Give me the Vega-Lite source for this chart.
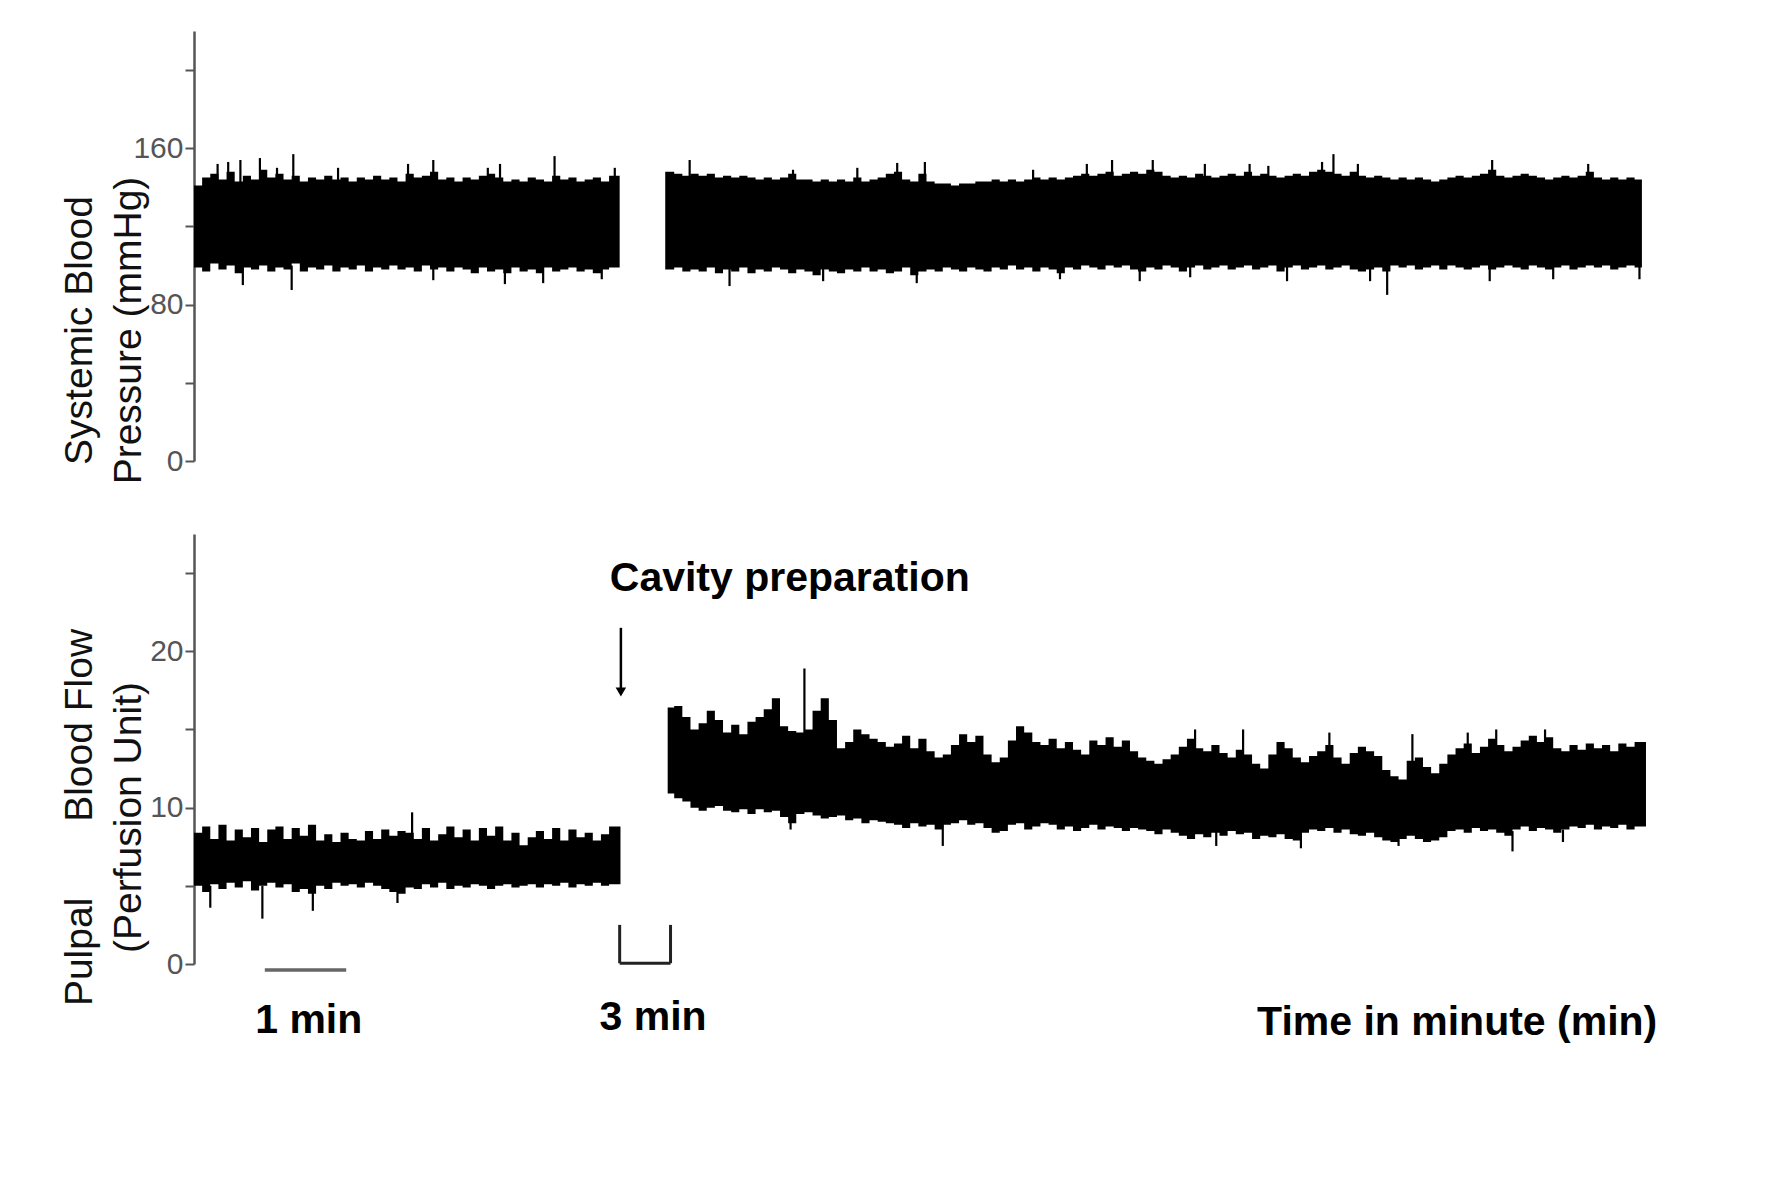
{
  "$schema": "https://vega.github.io/schema/vega-lite/v6.json",
  "padding": {"left": 60, "top": 31, "right": 10, "bottom": 10},
  "background": "white",
  "spacing": 73,
  "bounds": "flush",
  "config": {"view": {"stroke": null}, "font": "Liberation Sans", "axis": {"grid": false}},
  "datasets": {
    "bp": [
      {"seg":1,"t":0.0,"lo":99,"hi":141},
      {"seg":1,"t":0.05,"lo":99,"hi":141},{"seg":1,"t":0.15,"lo":97,"hi":145},{"seg":1,"t":0.25,"lo":101,"hi":147},{"seg":1,"t":0.35,"lo":98,"hi":144},{"seg":1,"t":0.45,"lo":100,"hi":148},{"seg":1,"t":0.55,"lo":96,"hi":143},{"seg":1,"t":0.65,"lo":99,"hi":146},{"seg":1,"t":0.75,"lo":98,"hi":144},{"seg":1,"t":0.85,"lo":100,"hi":149},{"seg":1,"t":0.95,"lo":97,"hi":145},
      {"seg":1,"t":1.05,"lo":99,"hi":147},{"seg":1,"t":1.15,"lo":98,"hi":144},{"seg":1,"t":1.25,"lo":101,"hi":146},{"seg":1,"t":1.35,"lo":97,"hi":143},{"seg":1,"t":1.45,"lo":99,"hi":145},{"seg":1,"t":1.55,"lo":98,"hi":144},{"seg":1,"t":1.65,"lo":100,"hi":146},{"seg":1,"t":1.75,"lo":97,"hi":144},{"seg":1,"t":1.85,"lo":99,"hi":145},{"seg":1,"t":1.95,"lo":98,"hi":143},
      {"seg":1,"t":2.05,"lo":100,"hi":145},{"seg":1,"t":2.15,"lo":97,"hi":144},{"seg":1,"t":2.25,"lo":99,"hi":146},{"seg":1,"t":2.35,"lo":98,"hi":144},{"seg":1,"t":2.45,"lo":100,"hi":145},{"seg":1,"t":2.55,"lo":98,"hi":143},{"seg":1,"t":2.65,"lo":99,"hi":147},{"seg":1,"t":2.75,"lo":97,"hi":145},{"seg":1,"t":2.85,"lo":100,"hi":146},{"seg":1,"t":2.95,"lo":98,"hi":148},
      {"seg":1,"t":3.05,"lo":99,"hi":144},{"seg":1,"t":3.15,"lo":97,"hi":145},{"seg":1,"t":3.25,"lo":99,"hi":143},{"seg":1,"t":3.35,"lo":98,"hi":145},{"seg":1,"t":3.45,"lo":96,"hi":144},{"seg":1,"t":3.55,"lo":99,"hi":146},{"seg":1,"t":3.65,"lo":97,"hi":147},{"seg":1,"t":3.75,"lo":98,"hi":145},{"seg":1,"t":3.85,"lo":96,"hi":143},{"seg":1,"t":3.95,"lo":99,"hi":144},
      {"seg":1,"t":4.05,"lo":97,"hi":143},{"seg":1,"t":4.15,"lo":98,"hi":145},{"seg":1,"t":4.25,"lo":96,"hi":144},{"seg":1,"t":4.35,"lo":99,"hi":143},{"seg":1,"t":4.45,"lo":97,"hi":146},{"seg":1,"t":4.55,"lo":98,"hi":144},{"seg":1,"t":4.65,"lo":99,"hi":145},{"seg":1,"t":4.75,"lo":97,"hi":143},{"seg":1,"t":4.85,"lo":98,"hi":144},{"seg":1,"t":4.95,"lo":96,"hi":145},
      {"seg":1,"t":5.05,"lo":98,"hi":143},{"seg":1,"t":5.15,"lo":99,"hi":146},{"seg":1,"t":5.23,"lo":99,"hi":146},
      {"seg":2,"t":5.79,"lo":98,"hi":148},
      {"seg":2,"t":5.85,"lo":98,"hi":148},{"seg":2,"t":5.95,"lo":99,"hi":147},{"seg":2,"t":6.05,"lo":97,"hi":146},{"seg":2,"t":6.15,"lo":98,"hi":147},{"seg":2,"t":6.25,"lo":97,"hi":146},{"seg":2,"t":6.35,"lo":99,"hi":147},{"seg":2,"t":6.45,"lo":96,"hi":145},{"seg":2,"t":6.55,"lo":98,"hi":146},{"seg":2,"t":6.65,"lo":97,"hi":145},{"seg":2,"t":6.75,"lo":99,"hi":146},
      {"seg":2,"t":6.85,"lo":96,"hi":145},{"seg":2,"t":6.95,"lo":98,"hi":144},{"seg":2,"t":7.05,"lo":97,"hi":145},{"seg":2,"t":7.15,"lo":99,"hi":144},{"seg":2,"t":7.25,"lo":98,"hi":145},{"seg":2,"t":7.35,"lo":96,"hi":147},{"seg":2,"t":7.45,"lo":98,"hi":144},{"seg":2,"t":7.55,"lo":97,"hi":144},{"seg":2,"t":7.65,"lo":95,"hi":143},{"seg":2,"t":7.75,"lo":98,"hi":144},
      {"seg":2,"t":7.85,"lo":97,"hi":143},{"seg":2,"t":7.95,"lo":96,"hi":144},{"seg":2,"t":8.05,"lo":98,"hi":143},{"seg":2,"t":8.15,"lo":97,"hi":145},{"seg":2,"t":8.25,"lo":99,"hi":143},{"seg":2,"t":8.35,"lo":97,"hi":144},{"seg":2,"t":8.45,"lo":98,"hi":145},{"seg":2,"t":8.55,"lo":96,"hi":147},{"seg":2,"t":8.65,"lo":97,"hi":148},{"seg":2,"t":8.75,"lo":99,"hi":144},
      {"seg":2,"t":8.85,"lo":95,"hi":143},{"seg":2,"t":8.95,"lo":97,"hi":147},{"seg":2,"t":9.05,"lo":98,"hi":143},{"seg":2,"t":9.15,"lo":97,"hi":142},{"seg":2,"t":9.25,"lo":99,"hi":142},{"seg":2,"t":9.35,"lo":98,"hi":141},{"seg":2,"t":9.45,"lo":97,"hi":142},{"seg":2,"t":9.55,"lo":99,"hi":142},{"seg":2,"t":9.65,"lo":98,"hi":143},{"seg":2,"t":9.75,"lo":97,"hi":143},
      {"seg":2,"t":9.85,"lo":99,"hi":144},{"seg":2,"t":9.95,"lo":98,"hi":143},{"seg":2,"t":10.05,"lo":100,"hi":144},{"seg":2,"t":10.15,"lo":98,"hi":143},{"seg":2,"t":10.25,"lo":99,"hi":144},{"seg":2,"t":10.35,"lo":97,"hi":145},{"seg":2,"t":10.45,"lo":99,"hi":144},{"seg":2,"t":10.55,"lo":98,"hi":145},{"seg":2,"t":10.65,"lo":96,"hi":144},{"seg":2,"t":10.75,"lo":99,"hi":145},
      {"seg":2,"t":10.85,"lo":98,"hi":146},{"seg":2,"t":10.95,"lo":100,"hi":147},{"seg":2,"t":11.05,"lo":99,"hi":146},{"seg":2,"t":11.15,"lo":98,"hi":147},{"seg":2,"t":11.25,"lo":100,"hi":148},{"seg":2,"t":11.35,"lo":99,"hi":146},{"seg":2,"t":11.45,"lo":100,"hi":147},{"seg":2,"t":11.55,"lo":98,"hi":148},{"seg":2,"t":11.65,"lo":97,"hi":147},{"seg":2,"t":11.75,"lo":99,"hi":149},
      {"seg":2,"t":11.85,"lo":98,"hi":148},{"seg":2,"t":11.95,"lo":100,"hi":146},{"seg":2,"t":12.05,"lo":99,"hi":145},{"seg":2,"t":12.15,"lo":97,"hi":146},{"seg":2,"t":12.25,"lo":99,"hi":145},{"seg":2,"t":12.35,"lo":100,"hi":147},{"seg":2,"t":12.45,"lo":98,"hi":146},{"seg":2,"t":12.55,"lo":99,"hi":145},{"seg":2,"t":12.65,"lo":100,"hi":146},{"seg":2,"t":12.75,"lo":98,"hi":147},
      {"seg":2,"t":12.85,"lo":99,"hi":146},{"seg":2,"t":12.95,"lo":100,"hi":148},{"seg":2,"t":13.05,"lo":98,"hi":146},{"seg":2,"t":13.15,"lo":99,"hi":147},{"seg":2,"t":13.25,"lo":100,"hi":146},{"seg":2,"t":13.35,"lo":97,"hi":145},{"seg":2,"t":13.45,"lo":99,"hi":146},{"seg":2,"t":13.55,"lo":100,"hi":147},{"seg":2,"t":13.65,"lo":98,"hi":146},{"seg":2,"t":13.75,"lo":99,"hi":148},
      {"seg":2,"t":13.85,"lo":100,"hi":149},{"seg":2,"t":13.95,"lo":98,"hi":148},{"seg":2,"t":14.05,"lo":99,"hi":147},{"seg":2,"t":14.15,"lo":100,"hi":146},{"seg":2,"t":14.25,"lo":98,"hi":148},{"seg":2,"t":14.35,"lo":97,"hi":146},{"seg":2,"t":14.45,"lo":98,"hi":145},{"seg":2,"t":14.55,"lo":99,"hi":146},{"seg":2,"t":14.65,"lo":97,"hi":145},{"seg":2,"t":14.75,"lo":100,"hi":144},
      {"seg":2,"t":14.85,"lo":99,"hi":145},{"seg":2,"t":14.95,"lo":100,"hi":144},{"seg":2,"t":15.05,"lo":98,"hi":145},{"seg":2,"t":15.15,"lo":99,"hi":144},{"seg":2,"t":15.25,"lo":100,"hi":143},{"seg":2,"t":15.35,"lo":98,"hi":144},{"seg":2,"t":15.45,"lo":100,"hi":145},{"seg":2,"t":15.55,"lo":99,"hi":146},{"seg":2,"t":15.65,"lo":98,"hi":145},{"seg":2,"t":15.75,"lo":99,"hi":146},
      {"seg":2,"t":15.85,"lo":100,"hi":147},{"seg":2,"t":15.95,"lo":98,"hi":149},{"seg":2,"t":16.05,"lo":99,"hi":146},{"seg":2,"t":16.15,"lo":100,"hi":145},{"seg":2,"t":16.25,"lo":99,"hi":146},{"seg":2,"t":16.35,"lo":98,"hi":147},{"seg":2,"t":16.45,"lo":100,"hi":146},{"seg":2,"t":16.55,"lo":99,"hi":145},{"seg":2,"t":16.65,"lo":98,"hi":144},{"seg":2,"t":16.75,"lo":99,"hi":145},
      {"seg":2,"t":16.85,"lo":100,"hi":146},{"seg":2,"t":16.95,"lo":98,"hi":145},{"seg":2,"t":17.05,"lo":99,"hi":146},{"seg":2,"t":17.15,"lo":100,"hi":148},{"seg":2,"t":17.25,"lo":99,"hi":145},{"seg":2,"t":17.35,"lo":100,"hi":144},{"seg":2,"t":17.45,"lo":98,"hi":145},{"seg":2,"t":17.55,"lo":99,"hi":144},{"seg":2,"t":17.65,"lo":100,"hi":145},{"seg":2,"t":17.75,"lo":99,"hi":144},
      {"seg":2,"t":17.79,"lo":99,"hi":144}
    ],
    "bpSpikes": [
      {"t":0.29,"lo":140,"hi":152},{"t":0.42,"lo":140,"hi":153},{"t":0.57,"lo":140,"hi":154},{"t":0.81,"lo":140,"hi":155},{"t":1.02,"lo":140,"hi":150},{"t":1.22,"lo":140,"hi":157},{"t":1.77,"lo":140,"hi":150},{"t":2.63,"lo":140,"hi":152},{"t":2.94,"lo":140,"hi":154},{"t":3.61,"lo":140,"hi":150},{"t":3.76,"lo":140,"hi":152},{"t":4.43,"lo":140,"hi":156},{"t":5.17,"lo":140,"hi":150},
      {"t":6.09,"lo":140,"hi":154},{"t":7.36,"lo":140,"hi":149},{"t":8.15,"lo":140,"hi":150},{"t":8.64,"lo":140,"hi":152.5},{"t":8.98,"lo":140,"hi":153},{"t":10.31,"lo":140,"hi":149},{"t":10.97,"lo":140,"hi":152},{"t":11.28,"lo":140,"hi":154},{"t":11.78,"lo":140,"hi":154},{"t":12.42,"lo":140,"hi":152},{"t":12.97,"lo":140,"hi":152},{"t":13.2,"lo":140,"hi":151},{"t":13.86,"lo":140,"hi":153},{"t":14.0,"lo":140,"hi":157},{"t":14.3,"lo":140,"hi":152},{"t":15.95,"lo":140,"hi":154},{"t":17.13,"lo":140,"hi":152},
      {"t":0.6,"lo":90,"hi":100},{"t":1.2,"lo":87.5,"hi":100},{"t":2.94,"lo":92.5,"hi":100},{"t":3.82,"lo":90.5,"hi":100},{"t":4.29,"lo":91,"hi":100},{"t":5.01,"lo":93,"hi":100},{"t":6.58,"lo":89.5,"hi":100},{"t":7.73,"lo":92,"hi":100},{"t":8.88,"lo":91,"hi":100},{"t":10.64,"lo":93,"hi":100},{"t":11.62,"lo":92,"hi":100},{"t":12.24,"lo":94,"hi":100},{"t":13.43,"lo":92,"hi":100},{"t":14.45,"lo":92,"hi":100},{"t":14.66,"lo":85,"hi":100},{"t":15.92,"lo":92,"hi":100},{"t":16.7,"lo":93,"hi":100},{"t":17.76,"lo":93,"hi":100}
    ],
    "pf": [
      {"seg":1,"t":0.0,"lo":5.0,"hi":8.4},
      {"seg":1,"t":0.05,"lo":5.0,"hi":8.4},{"seg":1,"t":0.15,"lo":4.6,"hi":8.8},{"seg":1,"t":0.25,"lo":5.1,"hi":8.0},{"seg":1,"t":0.35,"lo":4.8,"hi":8.9},{"seg":1,"t":0.45,"lo":5.2,"hi":7.9},{"seg":1,"t":0.55,"lo":4.9,"hi":8.6},{"seg":1,"t":0.65,"lo":5.3,"hi":8.1},{"seg":1,"t":0.75,"lo":4.7,"hi":8.7},{"seg":1,"t":0.85,"lo":5.0,"hi":7.8},{"seg":1,"t":0.95,"lo":5.2,"hi":8.6},
      {"seg":1,"t":1.05,"lo":4.9,"hi":8.8},{"seg":1,"t":1.15,"lo":5.1,"hi":8.0},{"seg":1,"t":1.25,"lo":4.6,"hi":8.7},{"seg":1,"t":1.35,"lo":4.8,"hi":8.2},{"seg":1,"t":1.45,"lo":4.5,"hi":8.9},{"seg":1,"t":1.55,"lo":5.0,"hi":7.9},{"seg":1,"t":1.65,"lo":4.8,"hi":8.3},{"seg":1,"t":1.75,"lo":5.2,"hi":7.8},{"seg":1,"t":1.85,"lo":5.0,"hi":8.4},{"seg":1,"t":1.95,"lo":5.1,"hi":8.0},
      {"seg":1,"t":2.05,"lo":4.9,"hi":7.9},{"seg":1,"t":2.15,"lo":5.2,"hi":8.5},{"seg":1,"t":2.25,"lo":5.0,"hi":8.0},{"seg":1,"t":2.35,"lo":4.8,"hi":8.6},{"seg":1,"t":2.45,"lo":4.6,"hi":8.2},{"seg":1,"t":2.55,"lo":4.5,"hi":8.5},{"seg":1,"t":2.65,"lo":4.9,"hi":8.4},{"seg":1,"t":2.75,"lo":4.8,"hi":8.0},{"seg":1,"t":2.85,"lo":5.1,"hi":8.7},{"seg":1,"t":2.95,"lo":4.9,"hi":7.9},
      {"seg":1,"t":3.05,"lo":5.2,"hi":8.3},{"seg":1,"t":3.15,"lo":4.8,"hi":8.8},{"seg":1,"t":3.25,"lo":5.0,"hi":8.1},{"seg":1,"t":3.35,"lo":4.9,"hi":8.6},{"seg":1,"t":3.45,"lo":5.1,"hi":7.9},{"seg":1,"t":3.55,"lo":5.0,"hi":8.7},{"seg":1,"t":3.65,"lo":4.8,"hi":8.2},{"seg":1,"t":3.75,"lo":5.0,"hi":8.8},{"seg":1,"t":3.85,"lo":5.1,"hi":7.9},{"seg":1,"t":3.95,"lo":4.9,"hi":8.4},
      {"seg":1,"t":4.05,"lo":5.0,"hi":7.6},{"seg":1,"t":4.15,"lo":5.1,"hi":8.1},{"seg":1,"t":4.25,"lo":4.9,"hi":8.5},{"seg":1,"t":4.35,"lo":5.1,"hi":8.0},{"seg":1,"t":4.45,"lo":5.0,"hi":8.7},{"seg":1,"t":4.55,"lo":5.2,"hi":7.9},{"seg":1,"t":4.65,"lo":4.9,"hi":8.6},{"seg":1,"t":4.75,"lo":5.1,"hi":8.1},{"seg":1,"t":4.85,"lo":5.0,"hi":8.4},{"seg":1,"t":4.95,"lo":5.2,"hi":7.9},
      {"seg":1,"t":5.05,"lo":5.0,"hi":8.3},{"seg":1,"t":5.15,"lo":5.1,"hi":8.8},{"seg":1,"t":5.24,"lo":5.1,"hi":8.8},
      {"seg":2,"t":5.82,"lo":10.9,"hi":16.4},
      {"seg":2,"t":5.85,"lo":10.9,"hi":16.4},{"seg":2,"t":5.95,"lo":10.6,"hi":16.5},{"seg":2,"t":6.05,"lo":10.4,"hi":15.8},{"seg":2,"t":6.15,"lo":10.0,"hi":15.0},{"seg":2,"t":6.25,"lo":9.8,"hi":15.4},{"seg":2,"t":6.35,"lo":10.0,"hi":16.2},{"seg":2,"t":6.45,"lo":10.1,"hi":15.6},{"seg":2,"t":6.55,"lo":9.8,"hi":14.8},{"seg":2,"t":6.65,"lo":9.7,"hi":15.3},{"seg":2,"t":6.75,"lo":9.9,"hi":14.7},
      {"seg":2,"t":6.85,"lo":9.6,"hi":15.5},{"seg":2,"t":6.95,"lo":9.9,"hi":15.8},{"seg":2,"t":7.05,"lo":9.7,"hi":16.3},{"seg":2,"t":7.15,"lo":9.8,"hi":17.0},{"seg":2,"t":7.25,"lo":9.4,"hi":15.2},{"seg":2,"t":7.35,"lo":9.0,"hi":14.9},{"seg":2,"t":7.45,"lo":9.6,"hi":14.8},{"seg":2,"t":7.55,"lo":9.7,"hi":15.0},{"seg":2,"t":7.65,"lo":9.5,"hi":16.2},{"seg":2,"t":7.75,"lo":9.3,"hi":17.0},
      {"seg":2,"t":7.85,"lo":9.4,"hi":15.6},{"seg":2,"t":7.95,"lo":9.5,"hi":13.8},{"seg":2,"t":8.05,"lo":9.2,"hi":14.2},{"seg":2,"t":8.15,"lo":9.3,"hi":15.0},{"seg":2,"t":8.25,"lo":9.0,"hi":14.7},{"seg":2,"t":8.35,"lo":9.2,"hi":14.4},{"seg":2,"t":8.45,"lo":9.1,"hi":14.2},{"seg":2,"t":8.55,"lo":9.0,"hi":13.9},{"seg":2,"t":8.65,"lo":8.9,"hi":14.1},{"seg":2,"t":8.75,"lo":8.7,"hi":14.6},
      {"seg":2,"t":8.85,"lo":9.0,"hi":13.8},{"seg":2,"t":8.95,"lo":8.8,"hi":14.4},{"seg":2,"t":9.05,"lo":8.9,"hi":13.6},{"seg":2,"t":9.15,"lo":8.6,"hi":13.2},{"seg":2,"t":9.25,"lo":8.9,"hi":13.4},{"seg":2,"t":9.35,"lo":9.0,"hi":14.0},{"seg":2,"t":9.45,"lo":9.2,"hi":14.7},{"seg":2,"t":9.55,"lo":8.9,"hi":14.2},{"seg":2,"t":9.65,"lo":9.0,"hi":14.6},{"seg":2,"t":9.75,"lo":8.7,"hi":13.4},
      {"seg":2,"t":9.85,"lo":8.4,"hi":12.9},{"seg":2,"t":9.95,"lo":8.5,"hi":13.2},{"seg":2,"t":10.05,"lo":8.9,"hi":14.3},{"seg":2,"t":10.15,"lo":9.0,"hi":15.2},{"seg":2,"t":10.25,"lo":8.6,"hi":14.8},{"seg":2,"t":10.35,"lo":8.8,"hi":14.2},{"seg":2,"t":10.45,"lo":9.0,"hi":14.0},{"seg":2,"t":10.55,"lo":8.9,"hi":14.4},{"seg":2,"t":10.65,"lo":8.6,"hi":13.8},{"seg":2,"t":10.75,"lo":8.8,"hi":14.2},
      {"seg":2,"t":10.85,"lo":8.5,"hi":13.7},{"seg":2,"t":10.95,"lo":8.7,"hi":13.4},{"seg":2,"t":11.05,"lo":8.9,"hi":14.3},{"seg":2,"t":11.15,"lo":8.6,"hi":14.0},{"seg":2,"t":11.25,"lo":8.8,"hi":14.5},{"seg":2,"t":11.35,"lo":8.7,"hi":13.9},{"seg":2,"t":11.45,"lo":8.5,"hi":14.3},{"seg":2,"t":11.55,"lo":8.7,"hi":13.6},{"seg":2,"t":11.65,"lo":8.6,"hi":13.2},{"seg":2,"t":11.75,"lo":8.5,"hi":13.0},
      {"seg":2,"t":11.85,"lo":8.3,"hi":12.8},{"seg":2,"t":11.95,"lo":8.6,"hi":13.1},{"seg":2,"t":12.05,"lo":8.4,"hi":13.4},{"seg":2,"t":12.15,"lo":8.2,"hi":13.9},{"seg":2,"t":12.25,"lo":8.0,"hi":14.4},{"seg":2,"t":12.35,"lo":8.3,"hi":13.8},{"seg":2,"t":12.45,"lo":8.1,"hi":13.6},{"seg":2,"t":12.55,"lo":8.4,"hi":14.0},{"seg":2,"t":12.65,"lo":8.2,"hi":13.5},{"seg":2,"t":12.75,"lo":8.5,"hi":13.2},
      {"seg":2,"t":12.85,"lo":8.3,"hi":13.7},{"seg":2,"t":12.95,"lo":8.4,"hi":13.4},{"seg":2,"t":13.05,"lo":8.0,"hi":12.8},{"seg":2,"t":13.15,"lo":8.2,"hi":12.5},{"seg":2,"t":13.25,"lo":8.1,"hi":13.4},{"seg":2,"t":13.35,"lo":8.3,"hi":14.2},{"seg":2,"t":13.45,"lo":8.0,"hi":13.8},{"seg":2,"t":13.55,"lo":7.9,"hi":13.2},{"seg":2,"t":13.65,"lo":8.4,"hi":12.9},{"seg":2,"t":13.75,"lo":8.6,"hi":13.3},
      {"seg":2,"t":13.85,"lo":8.5,"hi":13.6},{"seg":2,"t":13.95,"lo":8.7,"hi":14.0},{"seg":2,"t":14.05,"lo":8.4,"hi":13.2},{"seg":2,"t":14.15,"lo":8.6,"hi":12.8},{"seg":2,"t":14.25,"lo":8.3,"hi":13.5},{"seg":2,"t":14.35,"lo":8.2,"hi":13.9},{"seg":2,"t":14.45,"lo":8.4,"hi":13.6},{"seg":2,"t":14.55,"lo":8.1,"hi":13.3},{"seg":2,"t":14.65,"lo":7.9,"hi":12.4},{"seg":2,"t":14.75,"lo":7.8,"hi":12.0},
      {"seg":2,"t":14.85,"lo":8.0,"hi":11.8},{"seg":2,"t":14.95,"lo":8.2,"hi":13.0},{"seg":2,"t":15.05,"lo":8.0,"hi":13.2},{"seg":2,"t":15.15,"lo":7.8,"hi":12.6},{"seg":2,"t":15.25,"lo":7.9,"hi":12.2},{"seg":2,"t":15.35,"lo":8.1,"hi":12.8},{"seg":2,"t":15.45,"lo":8.5,"hi":13.4},{"seg":2,"t":15.55,"lo":8.6,"hi":13.8},{"seg":2,"t":15.65,"lo":8.4,"hi":14.1},{"seg":2,"t":15.75,"lo":8.7,"hi":13.5},
      {"seg":2,"t":15.85,"lo":8.5,"hi":13.9},{"seg":2,"t":15.95,"lo":8.6,"hi":14.4},{"seg":2,"t":16.05,"lo":8.4,"hi":14.0},{"seg":2,"t":16.15,"lo":8.2,"hi":13.6},{"seg":2,"t":16.25,"lo":8.6,"hi":13.9},{"seg":2,"t":16.35,"lo":8.8,"hi":14.3},{"seg":2,"t":16.45,"lo":8.5,"hi":14.6},{"seg":2,"t":16.55,"lo":8.7,"hi":14.2},{"seg":2,"t":16.65,"lo":8.6,"hi":14.5},{"seg":2,"t":16.75,"lo":8.4,"hi":13.8},
      {"seg":2,"t":16.85,"lo":8.6,"hi":13.6},{"seg":2,"t":16.95,"lo":8.8,"hi":14.0},{"seg":2,"t":17.05,"lo":8.7,"hi":13.7},{"seg":2,"t":17.15,"lo":8.9,"hi":14.1},{"seg":2,"t":17.25,"lo":8.6,"hi":13.8},{"seg":2,"t":17.35,"lo":8.8,"hi":14.0},{"seg":2,"t":17.45,"lo":8.7,"hi":13.6},{"seg":2,"t":17.55,"lo":8.9,"hi":14.1},{"seg":2,"t":17.65,"lo":8.6,"hi":13.9},{"seg":2,"t":17.75,"lo":8.8,"hi":14.2},
      {"seg":2,"t":17.84,"lo":8.8,"hi":14.2}
    ],
    "pfSpikes": [
      {"t":0.2,"lo":3.6,"hi":5.0},{"t":0.84,"lo":2.9,"hi":5.0},{"t":1.46,"lo":3.4,"hi":5.0},{"t":2.5,"lo":3.9,"hi":5.0},{"t":2.68,"lo":8.0,"hi":9.7},
      {"t":7.33,"lo":8.6,"hi":10.0},{"t":7.5,"lo":14.0,"hi":18.9},{"t":9.2,"lo":7.55,"hi":9.0},{"t":12.3,"lo":13.0,"hi":15.0},{"t":12.56,"lo":7.55,"hi":8.5},{"t":12.89,"lo":13.0,"hi":15.0},{"t":13.6,"lo":7.4,"hi":8.5},{"t":13.95,"lo":13.0,"hi":14.8},{"t":14.8,"lo":7.55,"hi":8.2},{"t":14.97,"lo":12.0,"hi":14.7},{"t":15.65,"lo":13.0,"hi":14.8},{"t":16.0,"lo":13.0,"hi":15.0},{"t":16.2,"lo":7.2,"hi":8.5},{"t":16.6,"lo":13.0,"hi":15.0},{"t":16.82,"lo":7.8,"hi":8.6}
    ],
    "bracket": [
      {"xa":5.23,"xb":5.23,"ya":2.5,"yb":0.05},
      {"xa":5.23,"xb":5.855,"ya":0.05,"yb":0.05},
      {"xa":5.855,"xb":5.855,"ya":0.05,"yb":2.5}
    ],
    "scaleBar": [{"xa":0.87,"xb":1.87,"ya":-0.38,"yb":-0.38}],
    "arrow": [{"xa":5.245,"xb":5.245,"ya":21.5,"yb":17.6}],
    "arrowHead": [{"t":5.245,"v":17.4}],
    "labels": [
      {"t":7.32,"v":24.6,"text":"Cavity preparation"},
      {"t":1.41,"v":-3.64,"text":"1 min"},
      {"t":5.64,"v":-3.45,"text":"3 min"},
      {"t":15.52,"v":-3.77,"text":"Time in minute (min)"}
    ]
  },
  "vconcat": [
    {
      "width": 1465,
      "height": 430,
      "layer": [
        {
          "data": {"name": "bp"},
          "mark": {"type": "area", "interpolate": "step", "orient": "vertical", "color": "#000", "opacity": 1},
          "encoding": {
            "x": {"field": "t", "type": "quantitative", "scale": {"domain": [0, 18], "nice": false, "zero": false}, "axis": null},
            "y": {"field": "lo", "type": "quantitative", "scale": {"domain": [0, 220], "nice": false},
              "axis": {
                "title": ["Systemic Blood", "Pressure (mmHg)"],
                "values": [0,20,40,60,80,100,120,140,160,180,200,220],
                "labelExpr": "datum.value % 80 === 0 ? datum.label : ''",
                "labelFont": "Liberation Sans",
                "labelFontSize": 30, "labelColor": "#555", "labelPadding": 2,
                "labelFlush": false, "labelOverlap": false,
                "tickSize": 9, "tickWidth": 2, "tickColor": "#555",
                "domainColor": "#555", "domainWidth": 2.5,
                "titleAngle": 270, "titleX": -134, "titleY": 299,
                "titleAlign": "center", "titleBaseline": "top",
                "titleFont": "Liberation Sans", "titleFontSize": 39, "titleFontWeight": "normal",
                "titleLineHeight": 49, "titleColor": "#111"
              }
            },
            "y2": {"field": "hi"},
            "detail": {"field": "seg", "type": "nominal"}
          }
        },
        {
          "data": {"name": "bpSpikes"},
          "mark": {"type": "rule", "color": "#000", "strokeWidth": 2.2},
          "encoding": {
            "x": {"field": "t", "type": "quantitative"},
            "y": {"field": "lo", "type": "quantitative"},
            "y2": {"field": "hi"}
          }
        }
      ]
    },
    {
      "width": 1465,
      "height": 430,
      "layer": [
        {
          "data": {"name": "pf"},
          "mark": {"type": "area", "interpolate": "step", "orient": "vertical", "color": "#000", "opacity": 1},
          "encoding": {
            "x": {"field": "t", "type": "quantitative", "scale": {"domain": [0, 18], "nice": false, "zero": false}, "axis": null},
            "y": {"field": "lo", "type": "quantitative", "scale": {"domain": [0, 27.5], "nice": false},
              "axis": {
                "title": ["Pulpal\u00a0\u00a0\u00a0\u00a0\u00a0\u00a0\u00a0Blood Flow", "(Perfusion Unit)"],
                "values": [0,2.5,5,7.5,10,12.5,15,17.5,20,22.5,25,27.5],
                "labelExpr": "datum.value % 10 === 0 ? datum.label : ''",
                "labelFont": "Liberation Sans",
                "labelFontSize": 30, "labelColor": "#555", "labelPadding": 2,
                "labelFlush": false, "labelOverlap": false,
                "tickSize": 9, "tickWidth": 2, "tickColor": "#555",
                "domainColor": "#555", "domainWidth": 2.5,
                "titleAngle": 270, "titleX": -134, "titleY": 283,
                "titleAlign": "center", "titleBaseline": "top",
                "titleFont": "Liberation Sans", "titleFontSize": 39, "titleFontWeight": "normal",
                "titleLineHeight": 49, "titleColor": "#111"
              }
            },
            "y2": {"field": "hi"},
            "detail": {"field": "seg", "type": "nominal"}
          }
        },
        {
          "data": {"name": "pfSpikes"},
          "mark": {"type": "rule", "color": "#000", "strokeWidth": 2.2},
          "encoding": {
            "x": {"field": "t", "type": "quantitative"},
            "y": {"field": "lo", "type": "quantitative"},
            "y2": {"field": "hi"}
          }
        },
        {
          "data": {"name": "bracket"},
          "mark": {"type": "rule", "color": "#222", "strokeWidth": 3},
          "encoding": {
            "x": {"field": "xa", "type": "quantitative"},
            "x2": {"field": "xb"},
            "y": {"field": "ya", "type": "quantitative"},
            "y2": {"field": "yb"}
          }
        },
        {
          "data": {"name": "scaleBar"},
          "mark": {"type": "rule", "color": "#666", "strokeWidth": 3.5},
          "encoding": {
            "x": {"field": "xa", "type": "quantitative"},
            "x2": {"field": "xb"},
            "y": {"field": "ya", "type": "quantitative"},
            "y2": {"field": "yb"}
          }
        },
        {
          "data": {"name": "arrow"},
          "mark": {"type": "rule", "color": "#000", "strokeWidth": 2.5},
          "encoding": {
            "x": {"field": "xa", "type": "quantitative"},
            "x2": {"field": "xb"},
            "y": {"field": "ya", "type": "quantitative"},
            "y2": {"field": "yb"}
          }
        },
        {
          "data": {"name": "arrowHead"},
          "mark": {"type": "point", "shape": "triangle-down", "filled": true, "color": "#000", "size": 110, "opacity": 1},
          "encoding": {
            "x": {"field": "t", "type": "quantitative"},
            "y": {"field": "v", "type": "quantitative"}
          }
        },
        {
          "data": {"name": "labels"},
          "mark": {"type": "text", "font": "Liberation Sans", "fontSize": 41, "fontWeight": "bold", "color": "#000", "align": "center", "baseline": "middle"},
          "encoding": {
            "x": {"field": "t", "type": "quantitative"},
            "y": {"field": "v", "type": "quantitative"},
            "text": {"field": "text"}
          }
        }
      ]
    }
  ]
}
